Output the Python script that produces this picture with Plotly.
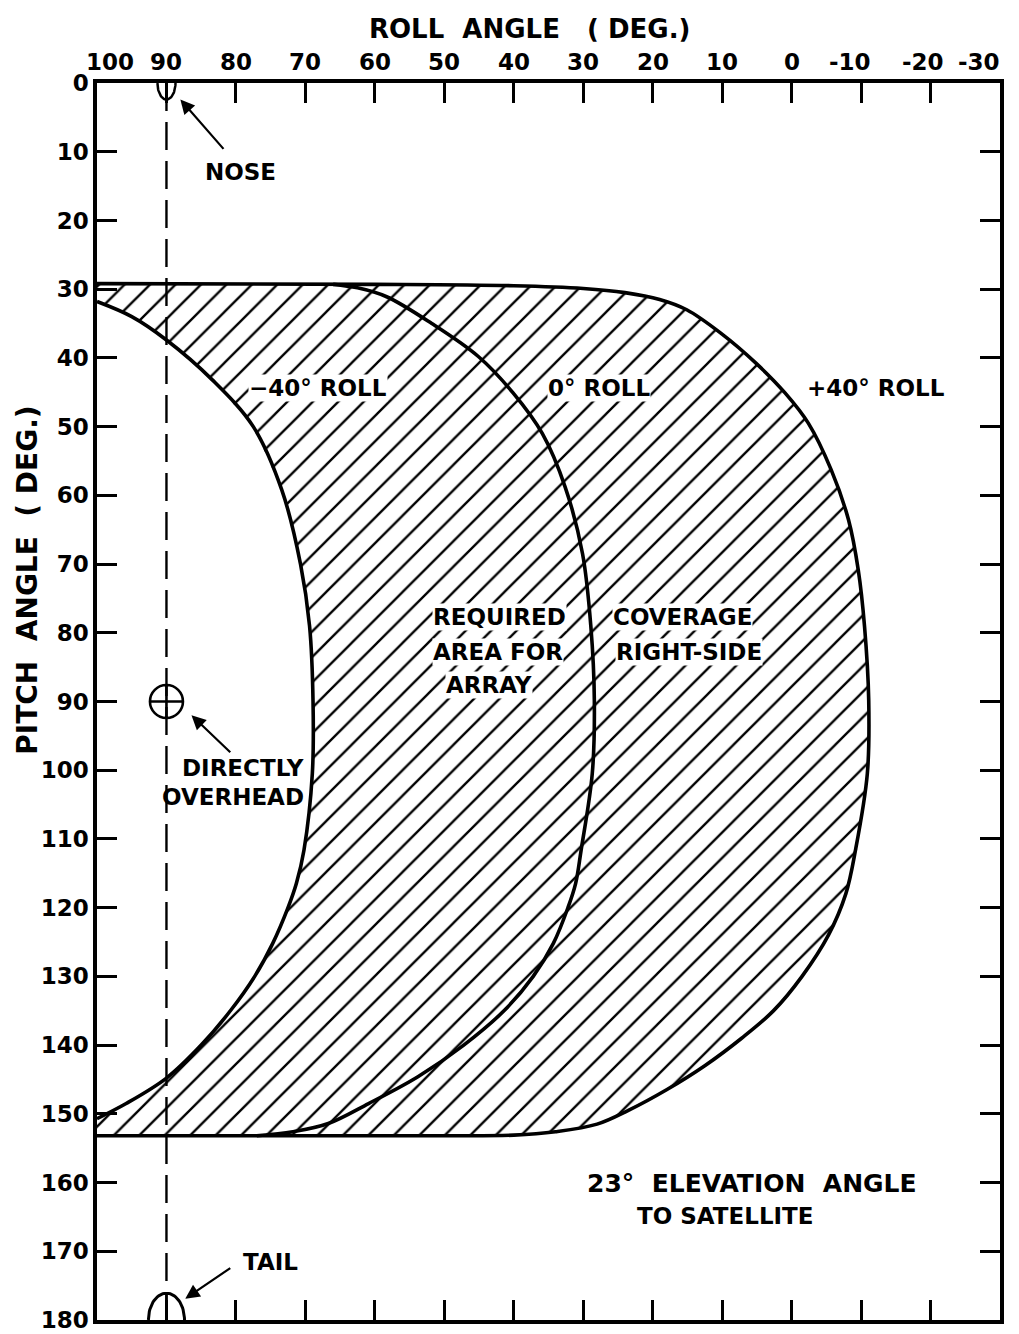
import numpy as np
import plotly.graph_objects as go

# readings (roll deg, pitch deg)
m40_pitch = [31.8, 34.0, 37.4, 43.2, 50.0, 59.2, 70.0, 79.0, 90.0, 100.5, 111.6, 116.5,
             120.0, 125.2, 130.0, 135.0, 140.0, 144.8, 148.5, 150.7]
m40_roll = [100, 95.0, 90.0, 83.4, 77.5, 73.4, 70.7, 69.4, 68.9, 69.0, 70.2, 71.3,
            72.5, 74.7, 77.3, 80.8, 85.0, 90.0, 95.8, 100]

z0_pitch = [29.3, 29.8, 31.1, 35.0, 39.8, 45.1, 51.0, 58.8, 68.5, 79.1, 89.8, 100.5,
            111.6, 116.5, 120.0, 125.2, 130.0, 134.9, 140.0, 144.6, 148.5, 151.4, 152.6, 153.2]
z0_roll = [66.0, 62.5, 58.3, 51.8, 45.1, 40.1, 35.9, 32.6, 30.1, 28.9, 28.4, 28.7,
           30.3, 31.1, 32.2, 34.3, 37.2, 41.3, 47.2, 53.8, 60.9, 66.7, 71.8, 77.0]

p40_pitch = [29.2, 29.3, 29.5, 29.9, 30.5, 31.5, 33.0, 36.4, 40.8, 45.1, 49.5, 56.3, 63.6,
             70.9, 79.1, 89.8, 100.5, 111.6, 118.0, 124.0, 130.0, 135.0, 139.0, 143.0,
             146.5, 149.5, 151.5, 152.6, 153.1, 153.2, 153.2]
p40_roll = [100, 60, 40, 30, 24, 19, 15.1, 10.2, 5.1, 0.95, -2.4, -5.7, -8.2,
            -9.6, -10.5, -11.1, -10.9, -9.2, -7.8, -5.3, -1.5, 2.6, 7.2, 12.5,
            18.0, 23.5, 28.0, 34.0, 40.0, 50.0, 100]

roll_ticks = [100, 90, 80, 70, 60, 50, 40, 30, 20, 10, 0, -10, -20, -30]
roll_ticktext = ["100", "90", "80", "70", "60", "50", "40", "30", "20", "10", "0", "-10", "-20", "-30"]
pitch_ticks = list(range(0, 181, 10))

nose = (90, 0)
tail = (90, 180)
overhead = (90, 90)

FONT = "DejaVu Sans"
fig = go.Figure()

# hatched coverage area: outer (+40) boundary, then inner (-40) boundary back up
hx = p40_roll + [100] + m40_roll[::-1] + [100]
hy = p40_pitch + [m40_pitch[-1]] + m40_pitch[::-1] + [p40_pitch[0]]
fig.add_trace(go.Scatter(x=hx, y=hy, mode="lines", fill="toself",
                         line=dict(width=0),
                         fillcolor="rgba(0,0,0,0)",
                         fillpattern=dict(shape="/", fgcolor="black", fgopacity=1,
                                          bgcolor="rgba(0,0,0,0)", size=18, solidity=0.13),
                         hoverinfo="skip"))

for xs, ys in [(m40_roll, m40_pitch), (z0_roll, z0_pitch), (p40_roll, p40_pitch)]:
    fig.add_trace(go.Scatter(x=xs, y=ys, mode="lines",
                             line=dict(color="black", width=3.6, shape="spline", smoothing=1.0),
                             hoverinfo="skip"))

# dashed roll = 90 line
fig.add_trace(go.Scatter(x=[90, 90], y=[0, 180], mode="lines",
                         line=dict(color="black", width=2.4, dash="28px,11px")))

# nose and tail glyphs
t = np.linspace(0, np.pi, 40)
fig.add_trace(go.Scatter(x=nose[0] + 1.3 * np.cos(t), y=nose[1] + 2.4 * np.sin(t), mode="lines",
                         line=dict(color="black", width=2.5)))
fig.add_trace(go.Scatter(x=[nose[0], nose[0]], y=[nose[1], nose[1] + 2.4], mode="lines",
                         line=dict(color="black", width=2.5)))
fig.add_trace(go.Scatter(x=tail[0] + 2.6 * np.cos(t), y=tail[1] - 3.9 * np.sin(t), mode="lines",
                         line=dict(color="black", width=3)))
fig.add_trace(go.Scatter(x=[tail[0], tail[0]], y=[tail[1], tail[1] - 3.9], mode="lines",
                         line=dict(color="black", width=2.5)))
fig.add_trace(go.Scatter(x=[overhead[0]], y=[overhead[1]], mode="markers",
                         marker=dict(symbol="circle-cross-open", size=33, color="black",
                                     line=dict(width=2.6, color="black"))))

ann_font = dict(family=FONT, size=23, color="black", weight="bold")
# text, x, y, anchor, size, white box (labels sitting on the hatching)
texts = [
    ("NOSE", 79.4, 13.0, "center", 23, False),
    ("TAIL", 75.0, 171.6, "center", 23, False),
    ("\u221240\u00b0 ROLL", 68.2, 44.4, "center", 23, True),
    ("0\u00b0 ROLL", 27.8, 44.4, "center", 23, True),
    ("+40\u00b0 ROLL", -12.2, 44.4, "center", 23, False),
    ("23\u00b0  ELEVATION  ANGLE", 5.7, 160.1, "center", 25, False),
    ("TO SATELLITE", 9.45, 164.8, "center", 23, False),
    ("DIRECTLY", 70.05, 99.7, "right", 23, False),
    ("OVERHEAD", 70.05, 103.9, "right", 23, False),
    ("REQUIRED", 51.8, 77.7, "left", 23, True),
    ("AREA FOR", 51.8, 82.8, "left", 23, True),
    ("ARRAY", 49.9, 87.6, "left", 23, True),
    ("COVERAGE", 25.9, 77.7, "left", 23, True),
    ("RIGHT-SIDE", 25.4, 82.8, "left", 23, True),
]
for txt, xv, yv, anchor, sz, boxed in texts:
    fig.add_annotation(x=xv, y=yv, text=txt, showarrow=False, xanchor=anchor,
                       bgcolor="white" if boxed else None, borderpad=0,
                       font=dict(family=FONT, size=sz, color="black", weight="bold"))

# arrows
arrows = [
    (88.0, 2.4, 81.6, 9.8),
    (87.3, 176.9, 80.6, 172.3),
    (86.4, 92.0, 80.6, 97.6),
]
for xt, yt, xa, ya in arrows:
    fig.add_annotation(x=xt, y=yt, ax=xa, ay=ya, axref="x", ayref="y", text="",
                       showarrow=True, arrowhead=2, arrowsize=1.3, arrowwidth=2.2, arrowcolor="black")

# roll tick labels on top (nudged like the hand lettering)
label_shift = {100: 13, -10: -11, -20: -8, -30: -21}
for v, lab in zip(roll_ticks, roll_ticktext):
    fig.add_annotation(x=v, y=1, yref="paper", yanchor="bottom", yshift=6,
                       xshift=label_shift.get(v, 0), text=lab, showarrow=False, font=ann_font)

# axis titles
fig.add_annotation(x=0.4795, y=1.044, xref="paper", yref="paper", xanchor="center", yanchor="middle",
                   text="ROLL  ANGLE   ( DEG.)", showarrow=False,
                   font=dict(family=FONT, size=26, color="black", weight="bold"))
fig.add_annotation(x=-0.077, y=0.598, xref="paper", yref="paper", xanchor="center", yanchor="middle",
                   text="PITCH  ANGLE  ( DEG.)", textangle=-90, showarrow=False,
                   font=dict(family=FONT, size=28, color="black", weight="bold"))

axis_common = dict(showgrid=False, zeroline=False, showline=True, linecolor="black", linewidth=3.5,
                   ticks="inside", ticklen=20, tickwidth=3, tickcolor="black", mirror="ticks",
                   automargin=False)
fig.update_xaxes(range=[100, -30], side="top", tickvals=roll_ticks, showticklabels=False,
                 **axis_common)
fig.update_yaxes(range=[180, 0], tickvals=pitch_ticks, ticktext=[str(v) for v in pitch_ticks],
                 tickfont=ann_font, ticklabelstandoff=0, **axis_common)

# page body has an 8px margin, so the figure is sized to fit the window after it
fig.update_layout(width=1011, height=1326, showlegend=False,
                  margin=dict(l=89, r=19, t=75, b=14),
                  plot_bgcolor="white", paper_bgcolor="white")

fig.write_html("out.html")
